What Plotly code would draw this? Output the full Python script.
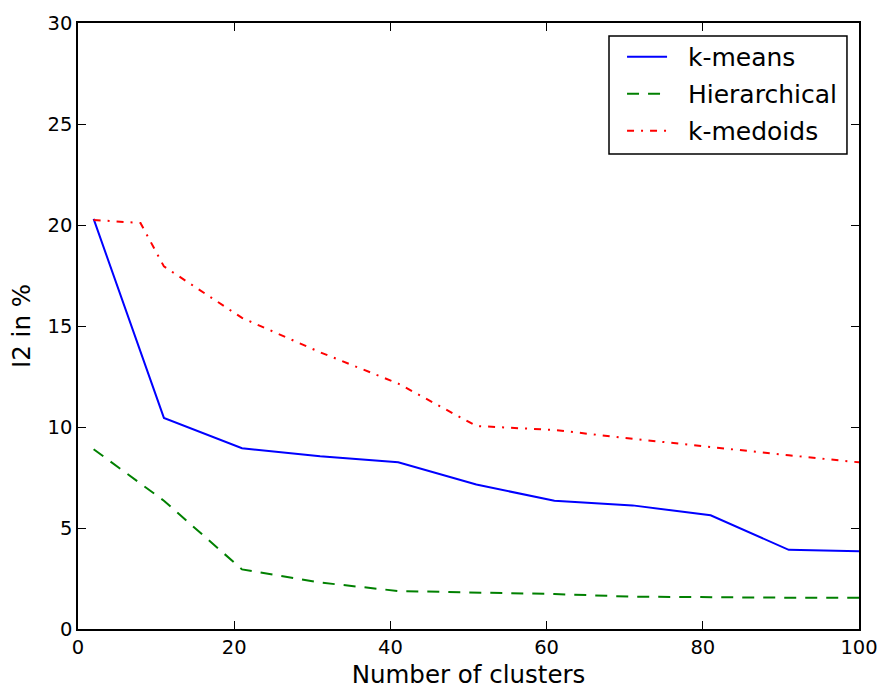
import plotly.graph_objects as go

# Data
x_clusters = [2, 11, 21, 31, 41, 51, 61, 71, 81, 91, 100]
kmeans = [20.3, 10.45, 8.95, 8.55, 8.25, 7.15, 6.35, 6.12, 5.63, 3.92, 3.85]
hierarchical = [8.9, 6.35, 2.95, 2.3, 1.88, 1.8, 1.73, 1.6, 1.57, 1.55, 1.55]
x_medoids = [2, 8, 11, 21, 31, 41, 51, 61, 71, 81, 91, 100]
kmedoids = [20.25, 20.1, 17.95, 15.4, 13.7, 12.15, 10.05, 9.85, 9.42, 9.0, 8.6, 8.25]
series_names = ["k-means", "Hierarchical", "k-medoids"]

x_ticks = [0, 20, 40, 60, 80, 100]
y_ticks = [0, 5, 10, 15, 20, 25, 30]

FONT = "DejaVu Sans"
PAD = "\u00a0\u00a0"  # gap between legend line sample and label

fig = go.Figure()
fig.add_trace(go.Scatter(x=x_clusters, y=kmeans, mode="lines", name=PAD + series_names[0],
                         legendgroup="a",
                         line=dict(color="#0000ff", width=2)))
fig.add_trace(go.Scatter(x=x_clusters, y=hierarchical, mode="lines", name=PAD + series_names[1],
                         legendgroup="b",
                         line=dict(color="#008000", width=2, dash="12px,9px")))
fig.add_trace(go.Scatter(x=x_medoids, y=kmedoids, mode="lines", name=PAD + series_names[2],
                         legendgroup="c",
                         line=dict(color="#ff0000", width=2, dash="7px,7px,2px,7px")))

axis_common = dict(
    showgrid=False, zeroline=False,
    showline=True, linecolor="black", linewidth=1.5, mirror="allticks",
    ticks="inside", ticklen=8, tickwidth=1, tickcolor="black",
    tickfont=dict(family=FONT, size=19.5, color="black"),
)

fig.update_layout(
    width=881, height=689,
    margin=dict(l=78, r=22, t=23, b=60, autoexpand=False),
    paper_bgcolor="white", plot_bgcolor="white",
    font=dict(family=FONT, color="black"),
    xaxis=dict(range=[0, 100], tickvals=x_ticks,
               title=dict(text="Number of clusters", font=dict(family=FONT, size=24.5), standoff=11),
               **axis_common),
    yaxis=dict(range=[0, 30], tickvals=y_ticks,
               title=dict(text="I2 in %", font=dict(family=FONT, size=24.5), standoff=10),
               **axis_common),
    legend=dict(x=0.6966, y=0.982, xanchor="left", yanchor="top",
                bgcolor="rgba(0,0,0,0)", borderwidth=0,
                font=dict(family=FONT, size=25, color="black"),
                tracegroupgap=1.5, itemwidth=40),
    showlegend=True,
    shapes=[dict(type="rect", xref="paper", yref="paper",
                 x0=0.6799, x1=0.9846, y0=0.7838, y1=0.9785,
                 line=dict(color="black", width=1.5), fillcolor="white", layer="above")],
)

# remove the browser's default body margin so the figure fills the window exactly
fig.write_html("out.html",
               config={"displayModeBar": False},
               post_script="document.body.style.margin='0';document.body.style.overflow='hidden';")
